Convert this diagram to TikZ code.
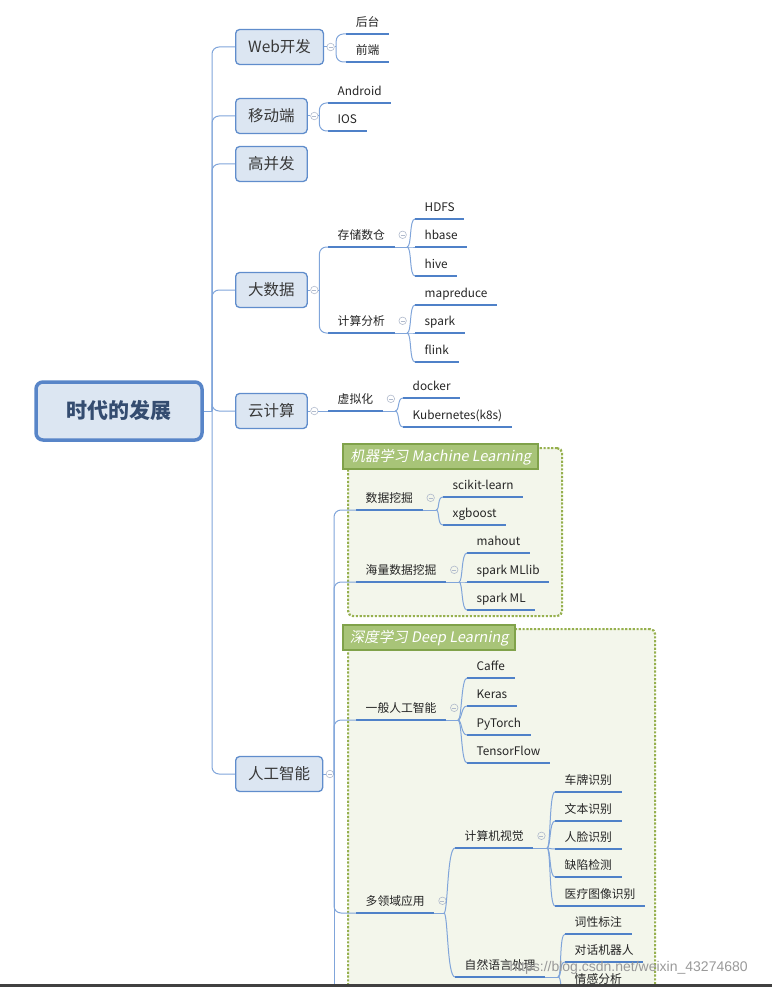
\documentclass[tikz,border=0pt]{standalone}
\usepackage{fontspec}
\setmainfont{Noto Sans CJK SC}
\newfontfamily\slantfont[FakeSlant=0.18]{Noto Sans CJK SC}
\newfontfamily\wmfont{Liberation Sans}
\usetikzlibrary{positioning, calc}
\definecolor{topicfill}{RGB}{220,230,242}
\definecolor{topicline}{RGB}{96,141,204}
\definecolor{rootline}{RGB}{88,133,200}
\definecolor{rootblue}{RGB}{52,76,112}
\definecolor{underblue}{RGB}{79,129,200}
\definecolor{branchblue}{RGB}{128,165,218}
\definecolor{foldgray}{RGB}{176,186,204}
\definecolor{grpfill}{RGB}{243,246,235}
\definecolor{grpdot}{RGB}{150,176,78}
\definecolor{titlefill}{RGB}{168,196,120}
\definecolor{titleline}{RGB}{128,162,74}
\definecolor{textgray}{RGB}{56,56,56}
\definecolor{leaftext}{RGB}{36,36,36}
\tikzset{
  root/.style     = {draw=rootline, line width=3.5pt, rounded corners=7pt, fill=topicfill,
                     minimum width=166, minimum height=58, text=rootblue,
                     font=\fontsize{21}{25}\selectfont\bfseries},
  topic/.style    = {draw=topicline, line width=1.3pt, rounded corners=4pt, fill=topicfill,
                     anchor=west, minimum height=35, inner xsep=12.5pt, text=textgray,
                     font=\fontsize{15.5}{18}\selectfont},
  uline/.style    = {draw=underblue, line width=2.2pt},
  leaf/.style     = {anchor=south west, inner xsep=9.5pt, inner ysep=4.5pt, text height=9pt,
                     text depth=3pt, text=leaftext, font=\fontsize{11.8}{14}\selectfont,
                     append after command={(\tikzlastnode.south west) edge[uline] (\tikzlastnode.south east)}},
  fold/.style     = {circle, draw=foldgray, line width=0.6pt, minimum size=7.5pt, inner sep=0pt,
                     path picture={\draw[foldgray, line width=0.6pt]
                       ([xshift=-2pt]path picture bounding box.center) -- ([xshift=2pt]path picture bounding box.center);}},
  grpbox/.style   = {draw=grpdot, fill=grpfill, line width=2.2pt, dash pattern=on 2.2pt off 1.6pt,
                     rounded corners=5pt, anchor=north west},
  grptitle/.style = {draw=titleline, fill=titlefill, line width=2.4pt, anchor=north west,
                     minimum height=25, inner sep=0pt, text=white,
                     font=\slantfont\fontsize{14.5}{17}\selectfont},
  link/.style     = {draw=branchblue, line width=1pt},
  elbow/.style    = {link, rounded corners=7pt},
  wmark/.style    = {anchor=west, text=black!40, font=\wmfont\fontsize{14}{16}\selectfont},
}
\begin{document}
\begin{tikzpicture}[x=1pt, y=-1pt]
  \useasboundingbox (0,0) rectangle (772,987);
  \clip (0,0) rectangle (772,987);

  % group frames
  \node[grpbox, minimum width=214, minimum height=168] (mlbox) at (347,447) {};
  \node[grpbox, minimum width=307, minimum height=420] (dlbox) at (347,628) {};
  \node[grptitle, minimum width=195] (mltitle) at (342,443) {机器学习 Machine Learning};
  \node[grptitle, minimum width=172] (dltitle) at (342,624) {深度学习 Deep Learning};

  % root and main topics
  \node[root] (root) at (119,411) {时代的发展};
  \node[topic] (web)   at (235,47)  {Web开发};
  \node[topic] (mob)   at (235,116) {移动端};
  \node[topic] (hc)    at (235,164) {高并发};
  \node[topic] (bd)    at (235,290) {大数据};
  \node[topic] (cloud) at (235,411) {云计算};
  \node[topic] (ai)    at (235,774) {人工智能};

  \coordinate (hub) at (212,411);
  \draw[link] (root.east) -- (hub);
  \foreach \t in {web,mob,hc,bd,cloud,ai} \draw[elbow] (hub) |- (\t.west);

  \foreach \t in {web,mob,bd,cloud,ai} {
    \node[fold, right=2.5pt of \t] (f\t) {};
    \draw[link] (\t.east) -- (f\t.west);
  }

  % web
  \coordinate (jweb) at ($(fweb.east)+(1.5,0)$);
  \draw[link] (fweb) -- (jweb);
  \node[leaf, minimum width=43] (ht) at (346,34) {后台};
  \node[leaf, minimum width=43] (qd) at (346,62) {前端};
  \foreach \n in {ht,qd} \draw[elbow] (jweb) |- (\n.south west);

  % mobile
  \coordinate (jmob) at ($(fmob.east)+(1,0)$);
  \draw[link] (fmob) -- (jmob);
  \node[leaf] (andr) at (328,103) {Android};
  \node[leaf] (ios)  at (328,131) {IOS};
  \foreach \n in {andr,ios} \draw[elbow] (jmob) |- (\n.south west);

  % big data
  \coordinate (jbd) at ($(fbd.east)+(1,0)$);
  \draw[link] (fbd) -- (jbd);
  \node[leaf] (store) at (328,247) {存储数仓};
  \node[leaf] (comp)  at (328,333) {计算分析};
  \foreach \n in {store,comp} \draw[elbow] (jbd) |- (\n.south west);

  \node[fold, right=4pt of store, yshift=1.5pt] (fstore) {};
  \coordinate (jstore) at (407,247);
  \draw[link] (store.south east) -- (jstore);
  \foreach \n/\t/\y in {hdfs/HDFS/219, hbase/hbase/247, hive/hive/276} {
    \node[leaf] (\n) at (415,\y) {\t};
    \draw[link] (jstore) .. controls +(5,0) and +(-6,0) .. (\n.south west);
  }

  \node[fold, right=4pt of comp, yshift=1.5pt] (fcomp) {};
  \coordinate (jcomp) at (407,333);
  \draw[link] (comp.south east) -- (jcomp);
  \foreach \n/\t/\y in {mapr/mapreduce/305, spk/spark/333, flk/flink/362} {
    \node[leaf] (\n) at (415,\y) {\t};
    \draw[link] (jcomp) .. controls +(5,0) and +(-6,0) .. (\n.south west);
  }

  % cloud
  \node[leaf] (virt) at (328,411) {虚拟化};
  \draw[link] (fcloud) -- (virt.south west);
  \node[fold, right=4pt of virt, yshift=1.5pt] (fvirt) {};
  \coordinate (jvirt) at (395,411);
  \draw[link] (virt.south east) -- (jvirt);
  \foreach \n/\t/\y in {dock/docker/398, kube/Kubernetes(k8s)/427} {
    \node[leaf] (\n) at (403,\y) {\t};
    \draw[link] (jvirt) .. controls +(5,0) and +(-6,0) .. (\n.south west);
  }

  % artificial intelligence
  \coordinate (jai) at (334,774);
  \coordinate (aiend) at (334,1000);
  \draw[link] (fai) -- (jai);
  \draw[link] (jai) -- (aiend);
  \node[leaf] (dm)  at (356,510) {数据挖掘};
  \node[leaf] (bdm) at (356,582) {海量数据挖掘};
  \node[leaf] (gai) at (356,720) {一般人工智能};
  \node[leaf] (mda) at (356,913) {多领域应用};
  \foreach \n in {dm,bdm,gai,mda} \draw[elbow] (jai) |- (\n.south west);

  \node[fold, right=4pt of dm, yshift=1.5pt] (fdm) {};
  \coordinate (jdm) at (436,510);
  \draw[link] (dm.south east) -- (jdm);
  \foreach \n/\t/\y in {skl/scikit-learn/497, xgb/xgboost/525} {
    \node[leaf] (\n) at (443,\y) {\t};
    \draw[link] (jdm) .. controls +(4,0) and +(-6,0) .. (\n.south west);
  }

  \node[fold, right=4pt of bdm, yshift=1.5pt] (fbdm) {};
  \coordinate (jbdm) at (459,582);
  \draw[link] (bdm.south east) -- (jbdm);
  \foreach \n/\t/\y in {mah/mahout/553, mll/spark MLlib/582, sml/spark ML/610} {
    \node[leaf] (\n) at (467,\y) {\t};
    \draw[link] (jbdm) .. controls +(4,0) and +(-6,0) .. (\n.south west);
  }

  \node[fold, right=4pt of gai, yshift=1.5pt] (fgai) {};
  \coordinate (jgai) at (458,720);
  \draw[link] (gai.south east) -- (jgai);
  \foreach \n/\t/\y in {caf/Caffe/678, ker/Keras/706, pyt/PyTorch/735, tf/TensorFlow/763} {
    \node[leaf] (\n) at (467,\y) {\t};
    \draw[link] (jgai) .. controls +(4,0) and +(-6,0) .. (\n.south west);
  }

  \node[fold, right=4pt of mda, yshift=1.5pt] (fmda) {};
  \coordinate (jmda) at (444,913);
  \draw[link] (mda.south east) -- (jmda);
  \node[leaf] (cv)  at (455,848) {计算机视觉};
  \node[leaf] (nlp) at (455,977) {自然语言处理};
  \foreach \n in {cv,nlp}
    \draw[link] (jmda) .. controls +(4,0) and +(-8,0) .. (\n.south west);

  \node[fold, right=4pt of cv, yshift=1.5pt] (fcv) {};
  \coordinate (jcv) at (547,848);
  \draw[link] (cv.south east) -- (jcv);
  \foreach \n/\t/\y in {cp/车牌识别/792, wb/文本识别/821, rl/人脸识别/849, qx/缺陷检测/877, yl/医疗图像识别/906} {
    \node[leaf] (\n) at (555,\y) {\t};
    \draw[link] (jcv) .. controls +(4,0) and +(-6,0) .. (\n.south west);
  }

  \coordinate (jnlp) at (558,977);
  \draw[link] (nlp.south east) -- (jnlp);
  \foreach \n/\t/\y in {cx/词性标注/934, dh/对话机器人/962, qg/情感分析/991} {
    \node[leaf] (\n) at (565,\y) {\t};
    \draw[link] (jnlp) .. controls +(4,0) and +(-6,0) .. (\n.south west);
  }

  % screenshot leftovers
  \node[wmark] (wm) at (506,968) {https://blog.csdn.net/weixin\_43274680};
  \fill[black!75] (0,984) rectangle (772,987);
\end{tikzpicture}
\end{document}
